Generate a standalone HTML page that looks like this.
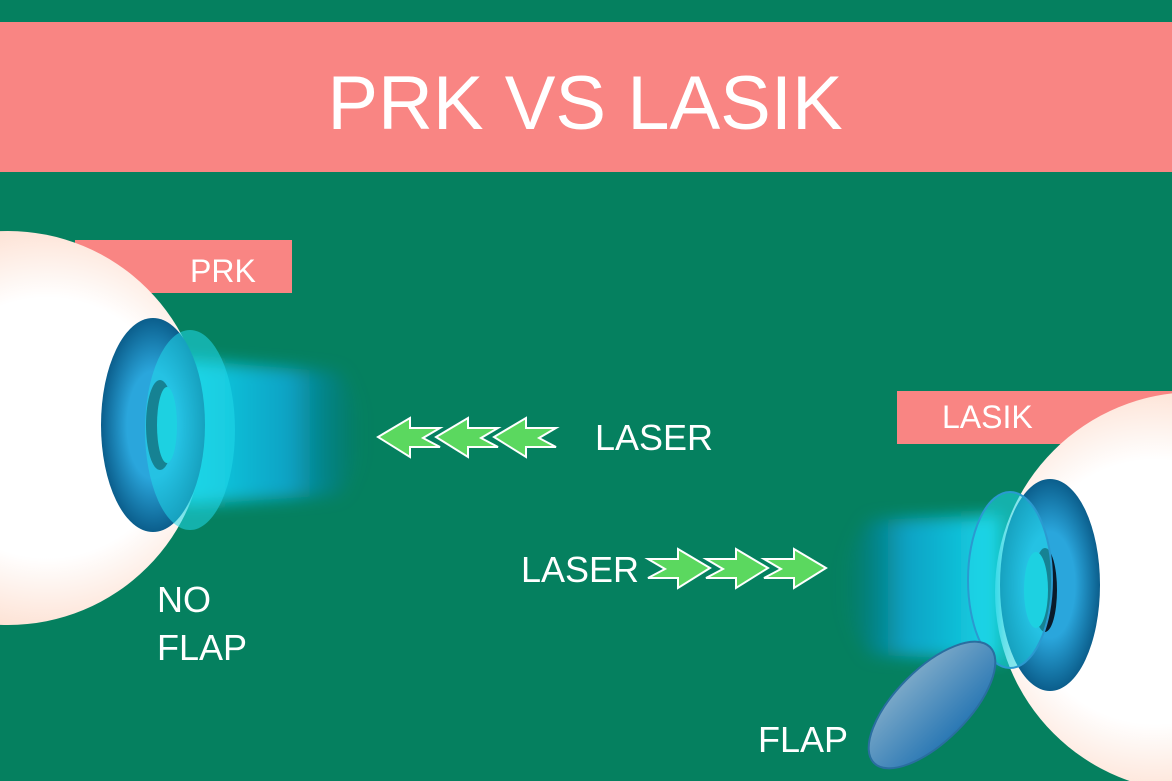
<!DOCTYPE html>
<html><head><meta charset="utf-8"><style>
html,body{margin:0;padding:0;width:1172px;height:781px;overflow:hidden;background:#04805f}
text{font-family:"Liberation Sans",sans-serif;fill:#fff}
</style></head><body>
<svg width="1172" height="781" viewBox="0 0 1172 781" xmlns="http://www.w3.org/2000/svg">
<defs>
<radialGradient id="sc" cx="0.6" cy="0.5" r="0.6">
<stop offset="0.55" stop-color="#ffffff"/><stop offset="0.85" stop-color="#fde3d6"/><stop offset="1" stop-color="#f7a98a"/></radialGradient>
<radialGradient id="sc2" cx="0.4" cy="0.5" r="0.6">
<stop offset="0.55" stop-color="#ffffff"/><stop offset="0.85" stop-color="#fde3d6"/><stop offset="1" stop-color="#f7a98a"/></radialGradient>
<radialGradient id="ir" cx="0.5" cy="0.5" r="0.5">
<stop offset="0.5" stop-color="#2aa6dc"/><stop offset="1" stop-color="#0b5e8c"/></radialGradient>
<linearGradient id="bl" x1="0" x2="1"><stop offset="0" stop-color="#18d6e6"/><stop offset="0.6" stop-color="#0aa6d0" stop-opacity="0.9"/><stop offset="1" stop-color="#0a6a9a" stop-opacity="0"/></linearGradient>
<linearGradient id="br" x1="1" x2="0"><stop offset="0" stop-color="#18d6e6"/><stop offset="0.6" stop-color="#0aa6d0" stop-opacity="0.9"/><stop offset="1" stop-color="#0a6a9a" stop-opacity="0"/></linearGradient>
<filter id="bf"><feGaussianBlur stdDeviation="8"/></filter>
<linearGradient id="fl" x1="0" y1="0" x2="0" y2="1"><stop offset="0" stop-color="#7aa8c8"/><stop offset="1" stop-color="#2a78b4"/></linearGradient>
</defs>
<rect x="0" y="0" width="1172" height="781" fill="#05805f"/>
<rect x="0" y="22" width="1172" height="150" fill="#f98583"/>
<text x="585" y="129" font-size="76" text-anchor="middle">PRK VS LASIK</text>

<rect x="75" y="240" width="217" height="53" fill="#f98583"/>
<circle cx="8" cy="428" r="197" fill="url(#sc)"/>
<text x="190" y="282" font-size="32">PRK</text>
<path d="M180 360 L340 372 Q385 435 340 495 L180 505 Z" fill="url(#bl)" filter="url(#bf)"/>
<ellipse cx="153" cy="425" rx="52" ry="107" fill="url(#ir)"/>
<ellipse cx="160" cy="425" rx="14" ry="45" fill="#0a1a2a"/>
<ellipse cx="167" cy="425" rx="10" ry="38" fill="#1ac8d8"/>
<ellipse cx="190" cy="430" rx="45" ry="100" fill="#20d8ea" fill-opacity="0.55"/>

<rect x="897" y="391" width="275" height="53" fill="#f98583"/>
<text x="942" y="428" font-size="32">LASIK</text>
<circle cx="1195" cy="592" r="200" fill="url(#sc2)"/>
<path d="M1000 515 L870 520 Q815 585 870 655 L1000 660 Z" fill="url(#br)" filter="url(#bf)"/>
<ellipse cx="1050" cy="585" rx="50" ry="106" fill="url(#ir)"/>
<ellipse cx="1045" cy="590" rx="12" ry="42" fill="#0a1a2a"/>
<ellipse cx="1036" cy="590" rx="12" ry="38" fill="#1ac8d8"/>
<ellipse cx="1010" cy="580" rx="42" ry="88" fill="#20d8ea" fill-opacity="0.55" stroke="#2a9ad0" stroke-width="2"/>
<ellipse cx="932" cy="705" rx="82" ry="36" transform="rotate(-45 932 705)" fill="url(#fl)" stroke="#2a6ea0" stroke-width="2"/>

<g fill="#5bd85f" stroke="#fff" stroke-width="2">
<polygon transform="translate(378,437)" points="0,0 32,-19 32,-9 62,-9 45,1 62,10 32,10 32,20"/>
<polygon transform="translate(436,437)" points="0,0 32,-19 32,-9 62,-9 45,1 62,10 32,10 32,20"/>
<polygon transform="translate(494,437)" points="0,0 32,-19 32,-9 62,-9 45,1 62,10 32,10 32,20"/>
<polygon transform="translate(826,568) scale(-1,1)" points="0,0 32,-19 32,-9 62,-9 45,1 62,10 32,10 32,20"/>
<polygon transform="translate(768,568) scale(-1,1)" points="0,0 32,-19 32,-9 62,-9 45,1 62,10 32,10 32,20"/>
<polygon transform="translate(710,568) scale(-1,1)" points="0,0 32,-19 32,-9 62,-9 45,1 62,10 32,10 32,20"/>
</g>
<text x="595" y="450" font-size="36">LASER</text>
<text x="521" y="582" font-size="36">LASER</text>
<text x="157" y="612" font-size="36">NO</text>
<text x="157" y="660" font-size="36">FLAP</text>
<text x="758" y="752" font-size="36">FLAP</text>
</svg>
</body></html>
